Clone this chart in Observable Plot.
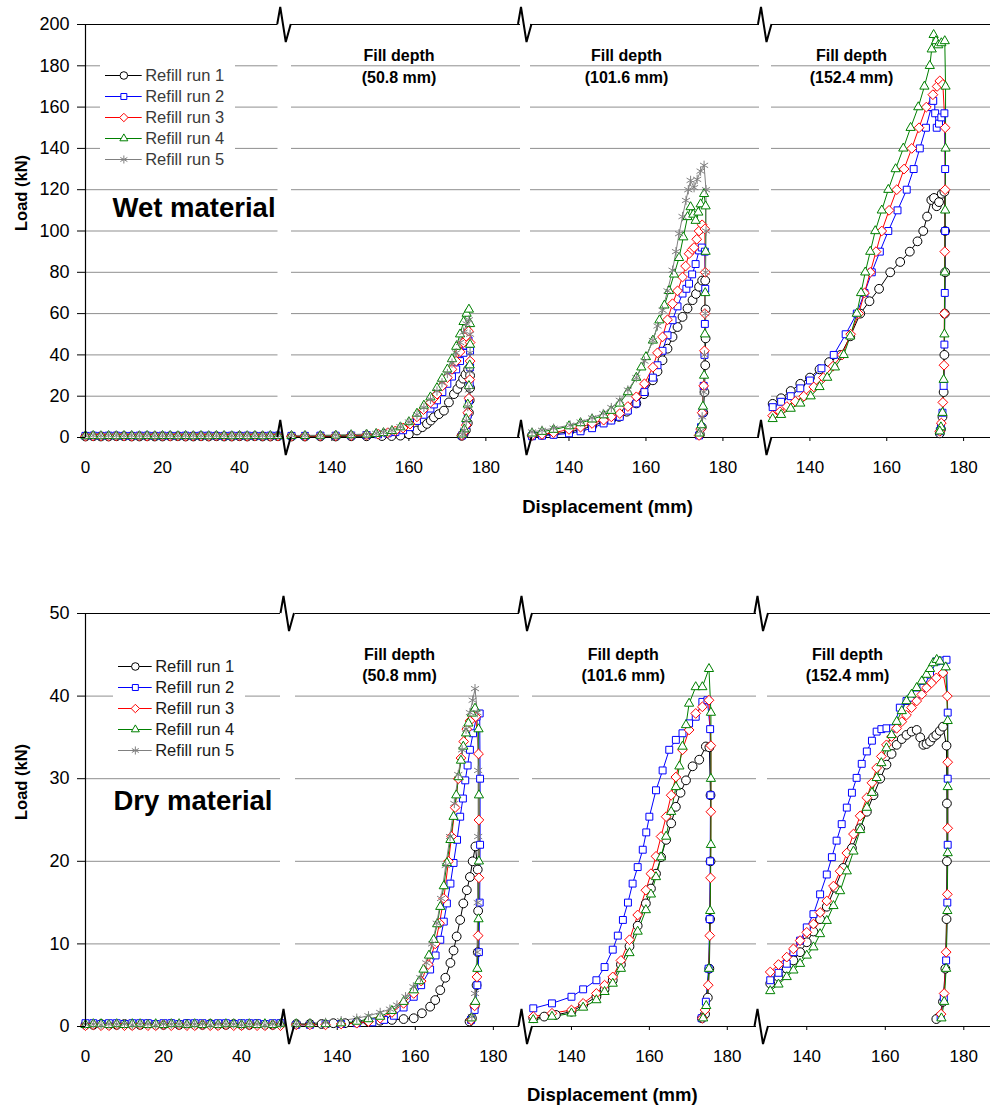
<!DOCTYPE html>
<html>
<head>
<meta charset="utf-8">
<script src="https://cdn.jsdelivr.net/npm/d3@7"></script>
<script src="https://cdn.jsdelivr.net/npm/@observablehq/plot@0.6"></script>
<style>
  html, body { margin: 0; padding: 0; background: #fff; }
  #chart { position: relative; width: 990px; height: 1106px; overflow: hidden; background: #fff; }
  #chart svg { position: absolute; left: 0; top: 0; }
</style>
</head>
<body>
<div id="chart"></div>
<script>
// ---------------- categories, ticks, labels ----------------
const runs = ["Refill run 1", "Refill run 2", "Refill run 3", "Refill run 4", "Refill run 5"];
const runColors = ["#000000", "#0000ff", "#ff0000", "#008000", "#808080"];
const runSymbols = ["circle", "square2", "diamond2", "triangle2", "asterisk"];
const wetLoadTicks = [0, 20, 40, 60, 80, 100, 120, 140, 160, 180, 200];
const wetGridTicks = [20, 40, 60, 80, 100, 120, 140, 160, 180];
const dryLoadTicks = [0, 10, 20, 30, 40, 50];
const dryGridTicks = [10, 20, 30, 40];
const startTicks = [0, 20, 40];
const fillTicks = [140, 160, 180];
const fillDepthLabels = ["Fill depth\n(50.8 mm)", "Fill depth\n(101.6 mm)", "Fill depth\n(152.4 mm)"];
const materialLabels = ["Wet material", "Dry material"];
const yLabel = "Load (kN)";
const xLabel = "Displacement (mm)";

// ---------------- data: initial segment (0-50 mm) ----------------
const flatDisp = [0,2,4,6,8,10,12,14,16,18,20,22,24,26,28,30,32,34,36,38,40,42,44,46,48,50];
const wetFlat1 = [0.5,0.6,0.5,0.5,0.6,0.6,0.5,0.5,0.6,0.5,0.5,0.6,0.6,0.5,0.5,0.6,0.5,0.6,0.5,0.5,0.6,0.5,0.6,0.5,0.5,0.6];
const wetFlat2 = [0.8,0.9,0.8,0.9,0.9,0.8,0.8,0.9,0.9,0.8,0.9,0.8,0.8,0.9,0.8,0.9,0.9,0.8,0.8,0.9,0.8,0.9,0.8,0.8,0.9,0.9];
const wetFlat3 = [0.6,0.7,0.7,0.6,0.7,0.7,0.6,0.7,0.6,0.7,0.7,0.6,0.7,0.6,0.7,0.7,0.6,0.7,0.7,0.6,0.7,0.6,0.7,0.7,0.6,0.7];
const wetFlat4 = [0.7,0.8,0.7,0.8,0.7,0.8,0.8,0.7,0.8,0.7,0.8,0.8,0.7,0.8,0.7,0.8,0.7,0.8,0.8,0.7,0.8,0.7,0.8,0.7,0.8,0.8];
const wetFlat5 = [0.9,1.0,0.9,1.0,1.0,0.9,1.0,0.9,1.0,0.9,0.9,1.0,0.9,1.0,1.0,0.9,1.0,0.9,1.0,0.9,1.0,1.0,0.9,1.0,0.9,1.0];
const dryFlat1 = [0.2,0.2,0.3,0.2,0.2,0.3,0.2,0.2,0.3,0.2,0.2,0.3,0.2,0.3,0.2,0.2,0.3,0.2,0.2,0.3,0.2,0.2,0.3,0.2,0.2,0.3];
const dryFlat2 = [0.4,0.4,0.3,0.4,0.4,0.3,0.4,0.4,0.4,0.3,0.4,0.4,0.3,0.4,0.4,0.4,0.3,0.4,0.4,0.3,0.4,0.4,0.4,0.3,0.4,0.4];
const dryFlat3 = [0.1,0.2,0.1,0.1,0.2,0.1,0.1,0.2,0.1,0.1,0.2,0.1,0.2,0.1,0.1,0.2,0.1,0.1,0.2,0.1,0.1,0.2,0.1,0.1,0.2,0.1];
const dryFlat4 = [0.2,0.3,0.3,0.2,0.3,0.2,0.3,0.3,0.2,0.3,0.2,0.3,0.3,0.2,0.3,0.2,0.3,0.2,0.3,0.3,0.2,0.3,0.2,0.3,0.2,0.3];
const dryFlat5 = [0.3,0.3,0.2,0.3,0.3,0.3,0.2,0.3,0.3,0.2,0.3,0.3,0.3,0.2,0.3,0.3,0.2,0.3,0.3,0.3,0.2,0.3,0.3,0.2,0.3,0.3];

// ---------------- data: wet, fill depth 50.8 mm  [displacement, load] ----------------
const w51_1 = [[129.5,0.5],[133,0.5],[137,0.5],[141,0.5],[145,0.6],[149,0.6],[153,0.7],[155.5,0.7],[157.8,0.9],[160,1.6],[162.1,3.4],[163.5,5],[164.7,6.6],[165.7,8.2],[166.5,9.8],[167.8,11.3],[169.1,13],[170.4,17],[171.7,21],[172.6,23.5],[173.4,26],[174.1,28.5],[174.7,30.5],[175.4,33],[175.9,30],[175.9,24],[175.8,18],[175.6,12],[175.3,7],[174.8,3.5],[174.2,1.5],[173.7,0.8]];
const w51_2 = [[129.5,0.8],[133,0.8],[137,0.9],[141,0.9],[145,1],[149,1.2],[152,1.5],[154.5,2],[156.5,2.6],[158.5,3.5],[160.3,5],[162.1,8],[163.8,11],[165.6,14],[166.5,16],[167.3,18],[168.7,22],[170,26],[171.2,29.5],[172.3,33],[173.3,37],[174.2,41],[174.9,44.5],[175.5,47],[175.9,42],[175.9,34],[175.8,26],[175.6,18],[175.3,11],[174.9,6],[174.3,2.5],[173.8,1]];
const w51_3 = [[129.5,0.6],[133,0.6],[137,0.7],[141,0.8],[145,0.9],[149,1.2],[152,1.6],[154.5,2.3],[156.5,3.2],[158.5,4.6],[160.3,6.5],[162.1,10],[163.8,13.5],[165.6,17],[166.5,19],[167.3,21],[168.7,25],[170,29],[171.2,33],[172.3,37],[173.3,41.5],[174.2,46],[174.9,49],[175.5,51.5],[175.9,46],[175.9,37],[175.8,28],[175.6,19],[175.3,12],[174.9,6],[174.3,2.5],[173.8,1]];
const w51_4 = [[129.5,0.8],[133,0.8],[137,0.9],[141,1],[145,1.2],[149,1.5],[151.5,1.8],[153.4,2.2],[155.6,3.2],[157.8,5],[160,7.5],[162.1,11.6],[163.9,15.5],[165.6,19.5],[167.3,24],[168.6,28.5],[170,33],[171.2,38],[172.3,44],[173.3,50],[174.2,56],[175,60],[175.6,62],[175.9,55],[175.9,45],[175.8,35],[175.6,25],[175.3,16],[174.9,9],[174.4,4],[173.8,1.5]];
const w51_5 = [[129.5,1],[133,1],[137,1.1],[141,1.2],[145,1.4],[149,1.7],[151.5,2],[153.4,2.5],[155.6,3.5],[157.8,5.2],[160,7.5],[162.1,11],[163.9,14.5],[165.6,18.5],[167.3,22.5],[168.6,26.5],[170,31],[171.2,36],[172.3,41],[173.3,46],[174.2,51],[175,55],[175.6,57],[175.9,50],[175.9,41],[175.8,32],[175.6,23],[175.3,15],[174.9,8],[174.4,3.5],[173.9,1.5]];

// ---------------- data: wet, fill depth 101.6 mm ----------------
const w101_1 = [[130.4,1],[133,1.3],[136,1.8],[140,2.7],[143,3.8],[146,5.5],[149,7.6],[151,8.8],[153,10],[155,12.5],[157.5,16.5],[159.5,21],[161.8,27.7],[163,32],[164.3,37.4],[165.6,43],[166.9,48.7],[168.2,53.5],[169.5,58.4],[170.8,62.5],[172.1,66.5],[173,69.5],[173.8,73],[174.6,76],[175.4,76],[175.5,62],[175.5,48],[175.4,35],[175.2,22],[174.9,12],[174.5,5],[174,1.5]];
const w101_2 = [[130.4,0.6],[133,0.9],[136,1.3],[140,2],[143,3],[146,4.5],[149,6.8],[151,8.2],[153.2,10],[155.3,13],[157.5,16.5],[159.6,22],[161.8,29],[163,35],[164.3,42],[165.6,49.5],[166.9,56.8],[168.2,63.5],[169.5,69.7],[170.5,72],[171.2,74.5],[172,79],[172.9,84],[173.8,90.6],[174.5,92],[175.3,90],[175.4,72],[175.3,55],[175.2,40],[175,25],[174.7,12],[174.3,5],[173.8,1]];
const w101_3 = [[130.4,1],[133,1.5],[136,2.3],[140,3.9],[143,5],[146,6.8],[149,8.4],[151,10],[153.2,11.6],[155.3,15],[157.5,19.7],[159.6,26],[161.8,34],[163,41],[164.3,48.7],[165.6,57],[166.9,64.8],[168.2,71],[169.5,77.7],[170.3,83],[171.2,89],[172,91],[172.5,92],[173.2,96],[173.8,100],[174.6,103],[175.3,101],[175.4,80],[175.3,60],[175.2,42],[175,25],[174.6,12],[174.2,4],[173.8,1]];
const w101_4 = [[130.4,2],[133,2.8],[136,3.8],[140,5.5],[143,7],[146,8.8],[149,10.8],[151,13],[153.2,16.5],[155.3,22],[157.5,29],[158.8,34],[160,39],[161.8,47],[163.5,56.8],[164.8,64],[166,71],[167.3,79],[168.6,87],[169.7,97],[170.8,106.8],[171.6,111.6],[172.3,108],[172.9,105],[173.6,109],[174.2,113],[175.1,118],[175.5,112],[175.5,90],[175.4,70],[175.3,50],[175.1,30],[174.8,15],[174.4,6],[173.9,2]];
const w101_5 = [[130.4,2.7],[133,3.5],[136,4.5],[140.3,6],[143,7.5],[146,9.5],[148.9,11.6],[151,14.5],[153.2,18],[155.3,23],[157.5,29],[159.6,37],[161.8,47],[163,54],[164.3,61.6],[165.6,71],[166.9,81],[167.8,90],[168.6,98.7],[169.5,107],[170.4,114.8],[171,120],[171.6,124.5],[172.5,121],[173.3,125],[174.2,129],[175.1,131.8],[175.6,120],[175.6,100],[175.5,80],[175.4,60],[175.2,40],[175,22],[174.6,10],[174.1,3]];

// ---------------- data: wet, fill depth 152.4 mm ----------------
const w152_1 = [[130.3,16.3],[132.5,19],[135,22.5],[137.5,26],[140,29],[142.5,33],[145,36.5],[148,40],[150.5,49],[153.1,60],[155.5,66],[158,72],[160.9,80],[163.5,85],[166,90],[168,95],[169.5,100],[170.5,107],[171.6,115],[172.3,116],[173,112],[173.6,114],[174.3,118],[175,119],[175.2,100],[175.2,80],[175.1,60],[175,40],[174.8,22],[174.5,10],[174.1,4],[173.8,2]];
const w152_2 = [[130.3,14.7],[132.5,17.3],[135,20],[137.5,23.8],[140,27.6],[143,33.5],[146.2,40],[149.3,50],[152.2,60],[154.2,70],[156.1,80],[158.2,90],[160.4,100],[162.8,110],[165.2,120],[167,130],[168.6,140],[170.2,150],[171.6,160],[172.1,163],[172.6,157],[173,150],[173.6,152],[174.2,155],[175,157],[175.2,130],[175.2,100],[175.1,70],[175,45],[174.8,25],[174.5,12],[174.1,5],[173.8,3]];
const w152_3 = [[130.3,10.6],[132.2,12.5],[134,15],[136.2,17.5],[138.4,20],[141,24.5],[143.5,29],[146,34.5],[148.4,40],[150.6,50],[152.7,60],[154.2,70],[155.7,80],[157.2,90],[158.7,100],[160.6,110],[162.6,120],[164.5,130],[166.5,140],[168.4,150],[170.3,160],[172,166],[173.1,170],[173.8,172.7],[174.6,171],[175.2,150],[175.2,120],[175.1,90],[175,60],[174.9,35],[174.6,17],[174.2,7],[173.8,3]];
const w152_4 = [[130.3,9],[132.5,11],[135,14],[137.5,16.5],[140.2,20],[142.5,24.5],[144.5,29],[146.5,34],[148.8,40],[150.5,49],[152.2,60],[153.3,70],[154.4,80],[155.7,90],[157,100],[158.7,110],[160.4,120],[162.3,130],[164.3,140],[166.2,150],[168.2,160],[169.8,170],[171.2,180],[171.7,188],[172.2,195],[172.8,192],[173.4,190],[174.2,191],[175.1,192],[175.3,170],[175.3,140],[175.2,110],[175.1,80],[175,50],[174.8,28],[174.5,12],[174.1,5],[173.8,3]];

// ---------------- data: dry, fill depth 50.8 mm ----------------
const d51_1 = [[129.5,0.3],[133,0.3],[136,0.3],[139,0.4],[142,0.4],[145,0.5],[148,0.6],[151,0.7],[154,0.8],[157,0.9],[159.6,1],[161.7,1.6],[163.8,2.4],[165.1,3.2],[166.4,4.4],[167.7,5.9],[169,7.7],[169.8,9.2],[170.6,10.9],[171.5,12.9],[172.3,14.9],[173.2,16.5],[174,18.1],[174.7,20],[175.4,21.8],[176,19],[176.1,14],[176,9],[175.7,5],[175.2,2.5],[174.5,1],[173.9,0.6]];
const d51_2 = [[129.5,0.2],[133,0.2],[137,0.3],[141,0.3],[145,0.4],[149,0.5],[152,0.8],[154.5,1.3],[157,2.3],[159.6,3.6],[161.5,5],[163.8,6.9],[165.2,8.6],[166.4,10.5],[167.3,12.7],[168.1,14.9],[169,17.3],[169.8,19.8],[170.7,22.6],[171.5,25.4],[172.2,27.6],[172.8,29.8],[173.4,31.6],[174,33.5],[174.8,35.5],[175.7,37.5],[176.5,37.9],[176.6,30],[176.6,22],[176.5,15],[176.3,9],[175.9,5],[175.2,2],[174.3,0.8]];
const d51_3 = [[129.5,0.2],[133,0.2],[137,0.2],[141,0.3],[145,0.4],[148,0.6],[151,1],[154,1.7],[157,2.8],[159.6,4],[161.5,5.5],[163.3,7.5],[165.1,10],[166.2,12.5],[167.3,15.5],[168.5,20],[169.3,23],[170.2,26.5],[171,30],[171.7,32.5],[172.4,34.5],[173.2,36],[174,37],[174.8,37.8],[175.5,37.5],[176.2,33],[176.3,25],[176.3,18],[176.1,11],[175.8,6],[175.2,2.5],[174.3,0.8]];
const d51_4 = [[129.5,0.3],[133,0.3],[137,0.3],[141,0.4],[145,0.6],[148,0.9],[151,1.2],[154,1.9],[157,3],[159.6,4.4],[161,5.5],[162.1,6.9],[163.5,8.6],[164.7,10.5],[165.6,12.4],[166.4,14.5],[167.3,17],[168.1,19.8],[169,22.6],[169.8,25.4],[170.5,28],[171.1,30.2],[171.7,32.2],[172.3,33.9],[173,35.5],[173.6,36.7],[174.5,37.9],[175.3,38.5],[176.2,36],[176.3,28],[176.3,20],[176.2,13],[175.9,7],[175.4,3],[174.4,1]];
const d51_5 = [[129.5,0.3],[133,0.4],[137,0.5],[141,0.7],[145,1],[148,1.3],[151,1.7],[153.5,2.1],[155.3,2.6],[157.5,3.6],[159.5,4.8],[161.3,5.9],[162.8,7.7],[164.3,10],[165.5,12.5],[166.6,15.5],[167.8,19.5],[168.9,23],[170,27],[171,30.5],[172,33.5],[173,36],[174,38],[174.7,39.5],[175.3,40.9],[175.9,38],[176.1,31],[176.1,23],[176,15],[175.8,9],[175.3,4],[174.5,1.2]];

// ---------------- data: dry, fill depth 101.6 mm ----------------
const d101_1 = [[130.2,1],[133,1.2],[136,1.4],[140,1.8],[143,2.6],[146.4,3.6],[148.5,4.5],[150.6,5.6],[152.7,7.5],[154.9,9.7],[157,12.2],[159.1,14.9],[160.4,16.7],[161.7,18.5],[163,20.5],[164.3,22.6],[165.6,24.6],[166.8,26.6],[168,28.3],[169.4,29.8],[171.1,31.5],[172.8,32.3],[174.5,33.9],[175.4,33.8],[175.7,28],[175.7,20],[175.6,13],[175.4,7],[175,3.5],[174.3,1.5],[173.5,1]];
const d101_2 = [[130.2,2.2],[135,2.8],[140,3.6],[143,4.5],[146.4,5.6],[148.5,7.2],[150.6,9.3],[151.9,11],[153.2,12.9],[154.5,15],[155.7,17.3],[157,19.3],[158.3,21.4],[159.2,23.5],[160,25.4],[161.7,28.6],[163.4,31],[165.1,33.5],[166.8,34.7],[168.5,35.5],[170.2,36.7],[171.9,37.5],[173.6,39.3],[174.9,39.5],[175.6,36],[175.7,28],[175.6,20],[175.5,13],[175.2,7],[174.5,3],[173.4,1]];
const d101_3 = [[130.2,1.2],[135,1.6],[140,2],[143,2.8],[146.4,4],[148.5,5],[150.6,6],[152.7,8],[154.9,10.5],[157,13.5],[159.1,16.5],[160.4,18.5],[161.7,20.6],[163,23],[164.3,25.4],[165.6,28],[166.8,30.2],[168.5,33.5],[170.2,35.9],[171.9,37.9],[173.6,38.7],[175.3,39.5],[175.8,34],[175.8,26],[175.7,18],[175.5,11],[175.1,5],[174.3,2],[173.6,1]];
const d101_4 = [[130.2,0.8],[135,1.2],[140,1.6],[143,2.3],[146.4,3.2],[148.5,4.2],[150.6,5.2],[152.7,7],[154.9,8.9],[157,11.5],[159.1,14.1],[160.4,16],[161.7,18.1],[163,20.5],[164.3,23],[165.6,26],[166.8,29],[167.7,31.5],[168.5,33.9],[169.4,36.5],[170.2,39.1],[171.9,41.1],[173.6,41.1],[175.3,43.3],[175.8,38],[175.8,30],[175.8,22],[175.6,14],[175.3,7],[174.6,2.5],[173.8,1]];

// ---------------- data: dry, fill depth 152.4 mm ----------------
const d152_1 = [[130.7,5.2],[132.8,6],[134.9,7],[136.6,8],[138.3,9],[140,10.2],[141.7,11.5],[143.4,13],[145.1,14.5],[147.2,16.8],[149.3,19.2],[151.5,21.6],[153.6,24],[155.3,26],[157,28],[158.7,30],[160.3,31.7],[161.6,33],[162.9,34.1],[164.2,34.8],[165.4,35.3],[166.7,35.7],[168,35.9],[168.9,35],[169.7,34.1],[170.5,34.2],[171.4,34.5],[172.2,35],[173,35.3],[173.9,35.8],[174.7,36.3],[175.6,34],[175.7,27],[175.7,20],[175.6,13],[175.3,7],[174.7,3],[173.8,1.2],[173,0.9]];
const d152_2 = [[130.7,5.6],[132.8,6.5],[134.9,7.6],[136.6,9],[138.3,10.4],[140,12],[141.7,13.6],[143.4,16],[145.1,18.4],[146.4,20.5],[147.6,22.5],[148.9,24.5],[150.2,26.5],[151.5,28.3],[152.7,30.1],[154,31.8],[155.3,33.3],[156.6,34.6],[157.8,35.7],[159,36],[160.3,36.1],[162,36.1],[163.7,38.6],[165.4,39.4],[166.7,39.8],[168,40.2],[169.7,41],[171.4,42.6],[173,44.2],[174.3,44.3],[175.6,44.4],[175.9,38],[175.9,30],[175.9,22],[175.8,15],[175.5,8],[174.9,3.5],[174.1,1.2]];
const d152_3 = [[130.7,6.6],[132.8,7.5],[134.9,8.4],[136.6,9.4],[138.3,10.4],[140,11.4],[141.7,12.4],[143.4,13.8],[145.1,15.2],[146.8,17],[148.5,18.8],[150.2,21],[151.9,23.3],[153.6,25.5],[155.3,27.7],[156.6,29.5],[157.8,31.3],[159,32.7],[160.3,34.1],[161.6,35.1],[162.9,36.1],[164.2,36.9],[165.4,37.7],[166.7,38.6],[168,39.4],[169.3,40.2],[170.5,41],[171.8,41.6],[173,42.2],[174.7,42.8],[175.8,40],[175.9,32],[175.9,24],[175.8,16],[175.5,9],[175,4],[174.2,1.5]];
const d152_4 = [[130.7,4.3],[132.8,5.1],[134.9,6],[136.6,6.8],[138.3,7.6],[140,8.6],[141.7,9.6],[143.4,11.2],[145.1,12.8],[146.8,14.6],[148.5,16.4],[150.2,18.8],[151.9,21.2],[153.6,23.8],[155.3,26.5],[156.6,28.3],[157.8,30.1],[159,31.9],[160.3,33.7],[161.6,35.3],[162.9,36.9],[164.2,38.2],[165.4,39.4],[166.7,40.2],[168,41],[169.3,41.8],[170.5,42.6],[171.4,43.3],[172.2,44],[173.1,44.4],[173.9,44.2],[175.4,43.5],[175.9,37],[175.9,29],[175.9,21],[175.8,14],[175.5,7],[175,3],[174.3,1]];

// ---------------- assembly ----------------
const W = 990, H = 1106;
const FONT = "'Liberation Sans', Arial, Helvetica, sans-serif";
const MARKER_R = 4.4;
const flatPairs = (loads) => flatDisp.map((d, i) => [d, loads[i]]);

const materials = [
  {
    name: materialLabels[0], yDomain: [0, 200], yRange: [437, 24], ticks: wetLoadTicks, grid: wetGridTicks,
    curves: [
      [flatPairs(wetFlat1), flatPairs(wetFlat2), flatPairs(wetFlat3), flatPairs(wetFlat4), flatPairs(wetFlat5)],
      [w51_1, w51_2, w51_3, w51_4, w51_5],
      [w101_1, w101_2, w101_3, w101_4, w101_5],
      [w152_1, w152_2, w152_3, w152_4, null]
    ],
    panels: [
      {xDomain: [0, 50], xRange: [85, 277.5]},
      {xDomain: [129.5, 189], xRange: [291, 520]},
      {xDomain: [130, 189.5], xRange: [530, 759]},
      {xDomain: [130, 187], xRange: [771, 990]}
    ],
    titleDx: [-7, -18.5, -29.5], titleDy: 40.5,
    matDx: 27, matDy: 184, xLabelDx: -8.3, xLabelDy: 70,
    legend: {left: 100, top: 45, w: 135, h: 140, x0: 5, x1: 41.7, textColor: "#3a3a3a"}
  },
  {
    name: materialLabels[1], yDomain: [0, 50], yRange: [1026, 613], ticks: dryLoadTicks, grid: dryGridTicks,
    curves: [
      [flatPairs(dryFlat1), flatPairs(dryFlat2), flatPairs(dryFlat3), flatPairs(dryFlat4), flatPairs(dryFlat5)],
      [d51_1, d51_2, d51_3, d51_4, d51_5],
      [d101_1, d101_2, d101_3, d101_4, null],
      [d152_1, d152_2, d152_3, d152_4, null]
    ],
    panels: [
      {xDomain: [0, 50], xRange: [85, 280]},
      {xDomain: [129.3, 186.7], xRange: [295, 519]},
      {xDomain: [130, 187.5], xRange: [532, 756]},
      {xDomain: [130, 186.8], xRange: [767, 990]}
    ],
    titleDx: [-8, -21.3, -31.5], titleDy: 50,
    matDx: 28, matDy: 188, xLabelDx: -5.5, xLabelDy: 69,
    legend: {left: 113, top: 636, w: 132, h: 140, x0: 5, x1: 38.7, textColor: "#1a1a1a"}
  }
];

const chart = document.getElementById("chart");

function rowsOf(curves) {
  const rows = [];
  curves.forEach((pts, i) => { if (pts) pts.forEach(([d, l]) => rows.push({run: runs[i], disp: d, load: l})); });
  return rows;
}

for (const m of materials) {
  m.panels.forEach((p, pi) => {
    const rows = rowsOf(m.curves[pi]);
    const marks = [
      Plot.ruleY(m.grid, {stroke: "#8f8f8f", strokeWidth: 1}),
      Plot.ruleY([m.yDomain[1]], {stroke: "#000", strokeWidth: 1.2}),
      Plot.ruleY([0], {stroke: "#000", strokeWidth: 1.2}),
      Plot.axisX({ticks: pi === 0 ? startTicks : fillTicks, tickSize: 4, tickPadding: 19, fontSize: 17, label: null}),
      Plot.line(rows, {x: "disp", y: "load", z: "run", stroke: "run", strokeWidth: 1}),
      Plot.dot(rows, {x: "disp", y: "load", stroke: "run", symbol: "run", fill: "white", r: MARKER_R, strokeWidth: 1})
    ];
    if (pi === 0) {
      marks.push(
        Plot.ruleX([0], {stroke: "#000", strokeWidth: 1.2}),
        Plot.axisY({ticks: m.ticks, tickSize: 8, tickPadding: 8, fontSize: 18, label: null}),
        Plot.text([yLabel], {text: d => d, frameAnchor: "left", dx: -64, rotate: -90, fontWeight: "bold", fontSize: 16.5, fill: "#000"}),
        Plot.text([m.name], {text: d => d, frameAnchor: "top-left", dx: m.matDx, dy: m.matDy, textAnchor: "start", lineAnchor: "middle", fontWeight: "bold", fontSize: 27.5, fill: "#000"})
      );
    } else {
      marks.push(
        Plot.text([fillDepthLabels[pi - 1]], {text: d => d, frameAnchor: "top", dx: m.titleDx[pi - 1], dy: m.titleDy, lineAnchor: "middle", lineHeight: 1.35, fontWeight: "bold", fontSize: 16, fill: "#000"})
      );
    }
    if (pi === 2) {
      marks.push(Plot.text([xLabel], {text: d => d, frameAnchor: "bottom-left", dx: m.xLabelDx, dy: m.xLabelDy, lineAnchor: "middle", fontWeight: "bold", fontSize: 18.5, fill: "#000"}));
    }
    const svg = Plot.plot({
      width: W, height: H,
      marginLeft: p.xRange[0], marginRight: W - p.xRange[1],
      marginTop: m.yRange[1], marginBottom: H - m.yRange[0],
      x: {domain: p.xDomain, range: p.xRange},
      y: {domain: m.yDomain, range: m.yRange, axis: null},
      color: {domain: runs, range: runColors},
      symbol: {domain: runs, range: runSymbols},
      style: {background: "transparent", overflow: "visible", fontFamily: FONT, fontSize: "17px", color: "#000"},
      marks
    });
    chart.appendChild(svg);
  });

  // axis break marks between panels (decoration)
  const brk = d3.create("svg").attr("width", W).attr("height", H);
  for (let pi = 1; pi < m.panels.length; pi++) {
    const c = (m.panels[pi - 1].xRange[1] + m.panels[pi].xRange[0]) / 2;
    for (const y of m.yRange) {
      brk.append("path")
        .attr("d", `M${c - 7},${y} L${c - 4},${y - 17} L${c + 1.5},${y + 18} L${c + 6.5},${y}`)
        .attr("fill", "none").attr("stroke", "#000").attr("stroke-width", 2).attr("stroke-linejoin", "miter");
    }
  }
  chart.appendChild(brk.node());

  // legend
  const L = m.legend;
  const leg = Plot.plot({
    width: L.w, height: L.h, margin: 0,
    x: {domain: [0, 1], range: [L.x0, L.x1], axis: null},
    y: {type: "point", domain: runs, range: [17, 126.5], axis: null},
    color: {domain: runs, range: runColors},
    symbol: {domain: runs, range: runSymbols},
    style: {background: "#fff", fontFamily: FONT, fontSize: "16px"},
    marks: [
      Plot.ruleY(runs, {y: d => d, x1: 0, x2: 1, stroke: d => d, strokeWidth: 1.2}),
      Plot.dot(runs, {x: 0.5, y: d => d, stroke: d => d, symbol: d => d, fill: "white", r: 3.8, strokeWidth: 1}),
      Plot.text(runs, {x: 1, y: d => d, text: d => d, dx: 3, textAnchor: "start", fill: L.textColor, fontSize: 16.5, letterSpacing: "0.8px"})
    ]
  });
  leg.style.left = L.left + "px";
  leg.style.top = L.top + "px";
  chart.appendChild(leg);
}
</script>
</body>
</html>
